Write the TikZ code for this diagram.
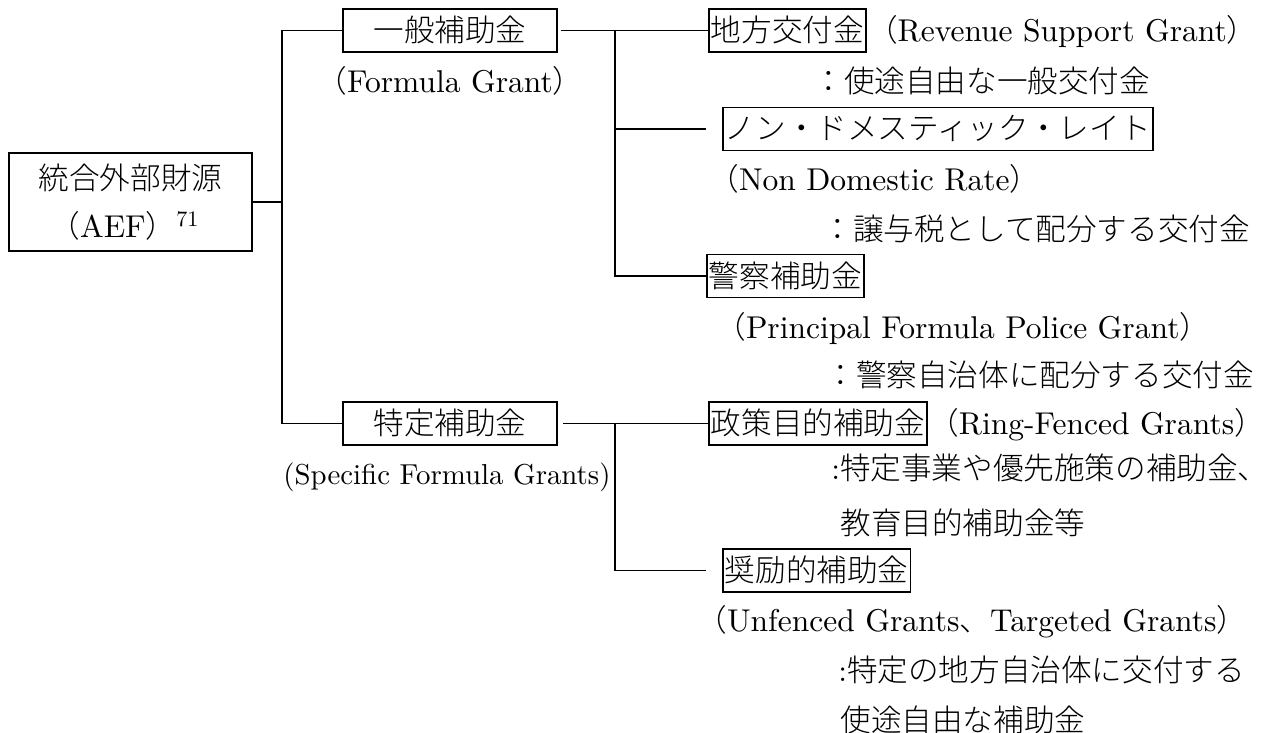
\documentclass[tikz,border=0pt]{standalone}
\usepackage{fontspec}
\setmainfont{lmroman10-regular.otf}[Scale=1.03]
\newfontfamily\jpfont{Noto Sans CJK JP}[UprightFont={* Light}]
\newcommand{\jtext}[1]{{\jpfont #1}}
\usetikzlibrary{positioning}
\tikzset{
  every node/.style={font=\fontsize{15.3}{24}\selectfont, text height=12.5pt, text depth=1.5pt},
  grantbox/.style={draw, thick, inner xsep=1pt, inner ysep=0pt, minimum height=21.5pt},
  note/.style={inner sep=0pt, anchor=west},
}
\begin{document}
\begin{tikzpicture}[x=0.5pt,y=-0.5pt]
\useasboundingbox (0,0) rectangle (1270,733);
% root
\node[draw, thick, align=center, text height=, text depth=, inner sep=0pt, minimum width=121.5pt, minimum height=49pt] (aef) at (130.5,202) {\jtext{統合外部財源}\\\jtext{（}AEF\jtext{）}\textsuperscript{71}\hspace*{6pt}};
% second level
\node[grantbox, minimum width=107pt] (gen) at (450,30.5) {\jtext{一般補助金}};
\node[note, anchor=center] (gennote) at (450,82) {\jtext{（}Formula Grant\jtext{）}};
\node[grantbox, minimum width=107pt] (spec) at (450,423.5) {\jtext{特定補助金}};
\node[note, anchor=center, font=\fontsize{14}{24}\selectfont] (specnote) at (447,473) {(Specific Formula Grants)};
% third level, general grants
\node[grantbox, anchor=west] (rsg) at (708,30.5) {\jtext{地方交付金}};
\node[note, right=0pt of rsg] (rsgname) {\jtext{（}Revenue Support Grant\jtext{）}};
\node[note] (rsgnote) at (813,82) {\jtext{：使途自由な一般交付金}};
\node[grantbox, anchor=west, minimum width=212pt] (ndr) at (722,129) {\jtext{ノン・ドメスティック・レイト}};
\node[note] (ndrname) at (708,180) {\jtext{（}Non Domestic Rate\jtext{）}};
\node[note] (ndrnote) at (822,230) {\jtext{：譲与税として配分する交付金}};
\node[grantbox, anchor=west] (pol) at (706,276) {\jtext{警察補助金}};
\node[note] (polname) at (715,327) {\jtext{（}Principal Formula Police Grant\jtext{）}};
\node[note] (polnote) at (825,375) {\jtext{：警察自治体に配分する交付金}};
% third level, specific grants
\node[grantbox, anchor=west] (rfg) at (708,423.5) {\jtext{政策目的補助金}};
\node[note, right=0pt of rfg] (rfgname) {\jtext{（}Ring-Fenced Grants\jtext{）}};
\node[note] (rfgnote) at (831,468) {:\jtext{特定事業や優先施策の補助金、}};
\node[note] (rfgnote2) at (840,523) {\jtext{教育目的補助金等}};
\node[grantbox, anchor=west] (ufg) at (722,570.5) {\jtext{奨励的補助金}};
\node[note] (ufgname) at (696,620) {\jtext{（}Unfenced Grants\jtext{、}Targeted Grants\jtext{）}};
\node[note] (ufgnote) at (838,670) {:\jtext{特定の地方自治体に交付する}};
\node[note] (ufgnote2) at (840,720) {\jtext{使途自由な補助金}};
% connectors
\coordinate (j0) at (282,202);
\coordinate (j1) at (615,30.5);
\coordinate (j2) at (615,423.5);
\path[draw,semithick] (aef.east) -- (j0);
\path[draw,semithick] (gen.west) -| (j0) |- (spec.west);
\path[draw,semithick,shorten <=1.5pt] (gen.east) -- (rsg.west);
\path[draw,semithick,shorten >=8pt] (j1 |- ndr.west) -- (ndr.west);
\path[draw,semithick] (j1) |- (pol.west);
\path[draw,semithick,shorten <=2.5pt] (spec.east) -- (rfg.west);
\path[draw,semithick,shorten >=8pt] (j2) |- (ufg.west);
\end{tikzpicture}
\end{document}
